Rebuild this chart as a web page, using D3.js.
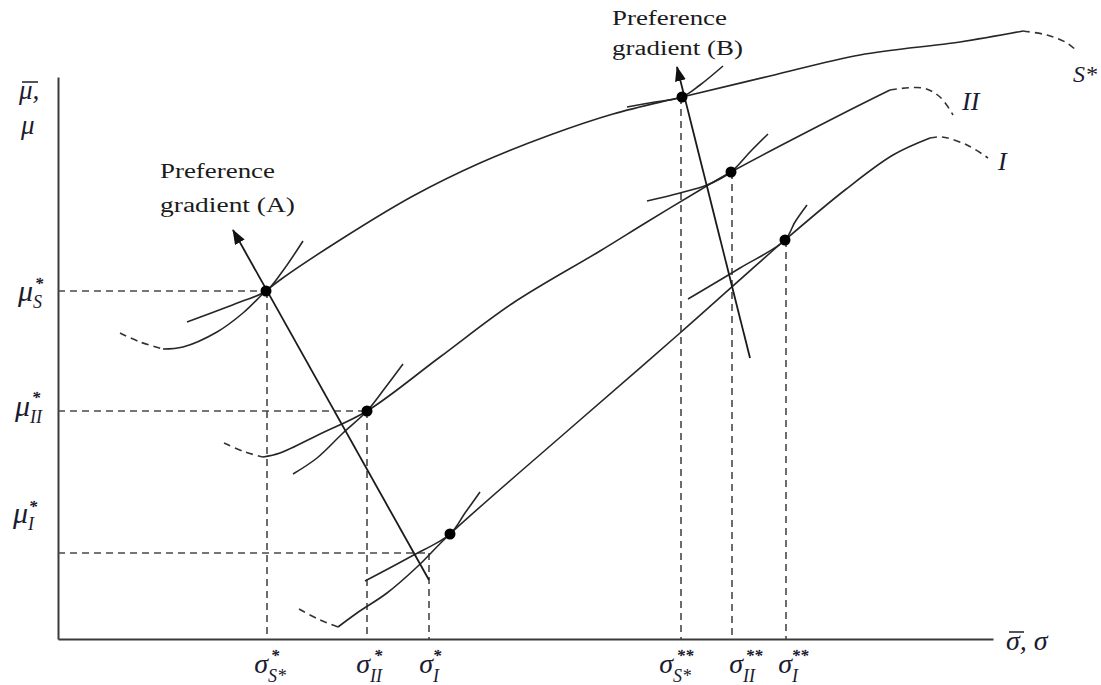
<!DOCTYPE html>
<html>
<meta charset="utf-8">
<style>
body { margin: 0; background: #fff; }
.curve { fill: none; stroke: #262626; stroke-width: 1.6; }
.dash { fill: none; stroke: #333; stroke-width: 1.6; stroke-dasharray: 7,5; }
.guide { fill: none; stroke: #484848; stroke-width: 1.6; stroke-dasharray: 7,5; }
.axis path { stroke: #3a3a3a; stroke-width: 2; }
.math { font-family: "Liberation Serif", serif; font-style: italic; fill: #1b1b2f; }
.note { font-family: "Liberation Serif", serif; fill: #1b1b1b; font-size: 20px; }
</style>
<svg width="1101" height="685"></svg>
<script src="https://d3js.org/d3.v7.min.js"></script>
<script>

// frontiers (sigma, mu), solid part and dashed ends
var sSolid = [[10.5,29.0],[12.5,29.2],[15.9,30.7],[18.5,32.6],[20.8,34.8],[22.2,35.9],[28.2,39.9],[35.5,44.3],[42.2,47.6],[49.2,50.4],[55.5,52.5],[62.4,54.2],[71.2,56.3],[80.2,58.4],[90.2,59.7],[96.5,60.8]];
var sDashL = [[6.2,30.6],[8.2,29.7],[10.5,29.0]];
var sDashR = [[96.5,60.8],[98.9,60.4],[100.9,59.6],[102.0,58.7]];

var iiSolid = [[20.5,18.2],[22.2,18.6],[26.2,20.5],[30.9,22.8],[38.2,28.2],[45.5,33.6],[54.2,38.8],[58.9,41.7],[64.2,44.9],[67.3,46.7],[78.2,52.4],[83.2,54.9]];
var iiDashL = [[16.6,19.6],[18.7,18.7],[20.5,18.2]];
var iiDashR = [[83.2,54.9],[86.5,55.1],[88.2,54.2],[89.5,52.4]];

var iSolid = [[28.0,1.2],[29.9,2.6],[32.9,4.6],[35.9,7.2],[39.2,10.5],[52.2,21.9],[62.2,30.6],[72.7,39.9],[78.7,44.9],[83.5,48.4],[87.2,50.1]];
var iDashL = [[24.1,3.0],[26.2,1.9],[28.0,1.2]];
var iDashR = [[87.2,50.1],[88.4,50.2],[90.9,49.4],[93.0,48.1]];

// indifference curves touching the frontiers
var icA   = [[12.9,31.7],[18.2,33.7],[20.8,34.8],[22.4,36.7],[24.5,39.8]];
var icII1 = [[23.5,16.5],[25.9,18.1],[28.5,20.6],[30.9,22.8],[32.7,25.1],[34.5,27.5]];
var icI1  = [[30.7,5.8],[35.2,8.2],[39.2,10.5],[40.7,12.6],[42.2,14.7]];
var icB   = [[56.9,53.2],[59.7,53.7],[62.4,54.2],[64.2,55.4],[66.5,57.3]];
var icII2 = [[58.9,43.8],[62.2,44.6],[64.9,45.4],[67.3,46.7],[69.2,48.7],[71.0,50.5]];
var icI2  = [[63.0,34.0],[68.2,37.1],[72.7,39.9],[73.7,41.7],[74.9,43.4]];

// optimum points
var optima = [[20.8,34.8],[30.9,22.8],[39.2,10.5],[62.4,54.2],[67.3,46.7],[72.7,39.9]];

// preference gradients: from end to arrow tip
var gradA = [[37.1,5.9],[17.5,40.9]];
var gradB = [[69.2,28.1],[61.9,57.2]];

// reference lines
var muRefs = [[34.8,20.8],[22.8,30.9],[8.6,37.1]];          // mu, sigma where it stops
var sigmaRefs = [[20.9,34.8],[30.9,22.8],[37.1,8.6],[62.3,54.2],[67.4,46.7],[72.8,39.9]]; // sigma, mu top

var sigmaSubs = ["S*","II","I","S*","II","I"];
var sigmaSups = ["*","*","*","**","**","**"];
var muSubs = ["S","II","I"];

var svg = d3.select("svg");
var x = d3.scaleLinear().domain([0, 93.5]).range([58, 993]);
var y = d3.scaleLinear().domain([0, 56.2]).range([639, 77]);

var line = d3.line()
    .x(function(d) { return x(d[0]); })
    .y(function(d) { return y(d[1]); })
    .curve(d3.curveCatmullRom.alpha(0.5));

svg.append("defs").append("marker")
    .attr("id", "arrow")
    .attr("markerUnits", "userSpaceOnUse")
    .attr("markerWidth", 16).attr("markerHeight", 12)
    .attr("refX", 14).attr("refY", 5.5)
    .attr("orient", "auto")
  .append("path")
    .attr("d", "M0,0 L15,5.5 L0,11 Z")
    .attr("fill", "#111");

// axes
svg.append("g").attr("class", "axis")
    .attr("transform", "translate(0," + y(0) + ")")
    .call(d3.axisBottom(x).tickValues([]).tickSizeOuter(0));
svg.append("g").attr("class", "axis")
    .attr("transform", "translate(" + x(0) + ",0)")
    .call(d3.axisLeft(y).tickValues([]).tickSizeOuter(0));

// dashed reference lines
svg.selectAll(".hguide").data(muRefs).enter().append("line")
    .attr("class", "guide")
    .attr("x1", x(0)).attr("x2", function(d) { return x(d[1]); })
    .attr("y1", function(d) { return y(d[0]); }).attr("y2", function(d) { return y(d[0]); });
svg.selectAll(".vguide").data(sigmaRefs).enter().append("line")
    .attr("class", "guide")
    .attr("x1", function(d) { return x(d[0]); }).attr("x2", function(d) { return x(d[0]); })
    .attr("y1", function(d) { return y(d[1]); }).attr("y2", y(0));

// curves
[sSolid, iiSolid, iSolid, icA, icII1, icI1, icB, icII2, icI2].forEach(function(c) {
  svg.append("path").attr("class", "curve").attr("d", line(c));
});
[sDashL, sDashR, iiDashL, iiDashR, iDashL, iDashR].forEach(function(c) {
  svg.append("path").attr("class", "dash").attr("d", line(c));
});

// gradients
[gradA, gradB].forEach(function(g) {
  svg.append("line")
      .attr("x1", x(g[0][0])).attr("y1", y(g[0][1]))
      .attr("x2", x(g[1][0])).attr("y2", y(g[1][1]))
      .attr("stroke", "#1a1a1a").attr("stroke-width", 1.8)
      .attr("marker-end", "url(#arrow)");
});

svg.selectAll(".opt").data(optima).enter().append("circle")
    .attr("cx", function(d) { return x(d[0]); })
    .attr("cy", function(d) { return y(d[1]); })
    .attr("r", 5.5).attr("fill", "#000");

// sigma labels under the axis
var sigDx = [1, 3, 4, -8, 11, 6];
var supDx = [7, 8, 4, 12, 11, 8];
sigmaRefs.forEach(function(d, i) {
  var xe = x(d[0]) + sigDx[i];
  svg.append("text").attr("class", "math").attr("x", xe).attr("y", 673)
      .attr("text-anchor", "end").style("font-size", "28px").text("σ");
  svg.append("text").attr("class", "math").attr("x", xe).attr("y", 682)
      .style("font-size", "18px").text(sigmaSubs[i]);
  svg.append("text").attr("class", "math").attr("x", xe + supDx[i]).attr("y", 661)
      .attr("text-anchor", "middle").style("font-size", "17px").style("font-weight", "bold").text(sigmaSups[i]);
});

// mu labels left of the axis
var muLay = [{xe: 33, b: 301, s: 308, t: 289, sx: 39},
             {xe: 30, b: 416, s: 423, t: 403, sx: 36},
             {xe: 28, b: 523, s: 530, t: 512, sx: 33}];
muLay.forEach(function(l, i) {
  svg.append("text").attr("class", "math").attr("x", l.xe).attr("y", l.b)
      .attr("text-anchor", "end").style("font-size", "30px").text("μ");
  svg.append("text").attr("class", "math").attr("x", l.xe).attr("y", l.s)
      .style("font-size", "18px").text(muSubs[i]);
  svg.append("text").attr("class", "math").attr("x", l.sx).attr("y", l.t)
      .attr("text-anchor", "middle").style("font-size", "17px").style("font-weight", "bold").text("*");
});

// axis titles
svg.append("text").attr("class", "math").attr("x", 19).attr("y", 99).style("font-size", "27px").text("μ,");
svg.append("line").attr("x1", 22).attr("x2", 38).attr("y1", 82).attr("y2", 82).attr("stroke", "#1b1b2f").attr("stroke-width", 1.5);
svg.append("text").attr("class", "math").attr("x", 21).attr("y", 134).style("font-size", "27px").text("μ");

svg.append("text").attr("class", "math").attr("x", 1006).attr("y", 650).style("font-size", "28px").text("σ, σ");
svg.append("line").attr("x1", 1009).attr("x2", 1024).attr("y1", 632).attr("y2", 632).attr("stroke", "#1b1b2f").attr("stroke-width", 1.5);

// curve names
svg.append("text").attr("class", "math").attr("x", 1073).attr("y", 82).style("font-size", "24px").text("S*");
svg.append("text").attr("class", "math").attr("x", 962).attr("y", 110).style("font-size", "26px").text("II");
svg.append("text").attr("class", "math").attr("x", 998).attr("y", 170).style("font-size", "26px").text("I");

// gradient notes
svg.append("text").attr("class", "note").attr("x", 160).attr("y", 178).attr("textLength", 115).attr("lengthAdjust", "spacingAndGlyphs").text("Preference");
svg.append("text").attr("class", "note").attr("x", 160).attr("y", 212).attr("textLength", 135).attr("lengthAdjust", "spacingAndGlyphs").text("gradient (A)");
svg.append("text").attr("class", "note").attr("x", 612).attr("y", 25).attr("textLength", 115).attr("lengthAdjust", "spacingAndGlyphs").text("Preference");
svg.append("text").attr("class", "note").attr("x", 612).attr("y", 55).attr("textLength", 131).attr("lengthAdjust", "spacingAndGlyphs").text("gradient (B)");

</script>
</html>
